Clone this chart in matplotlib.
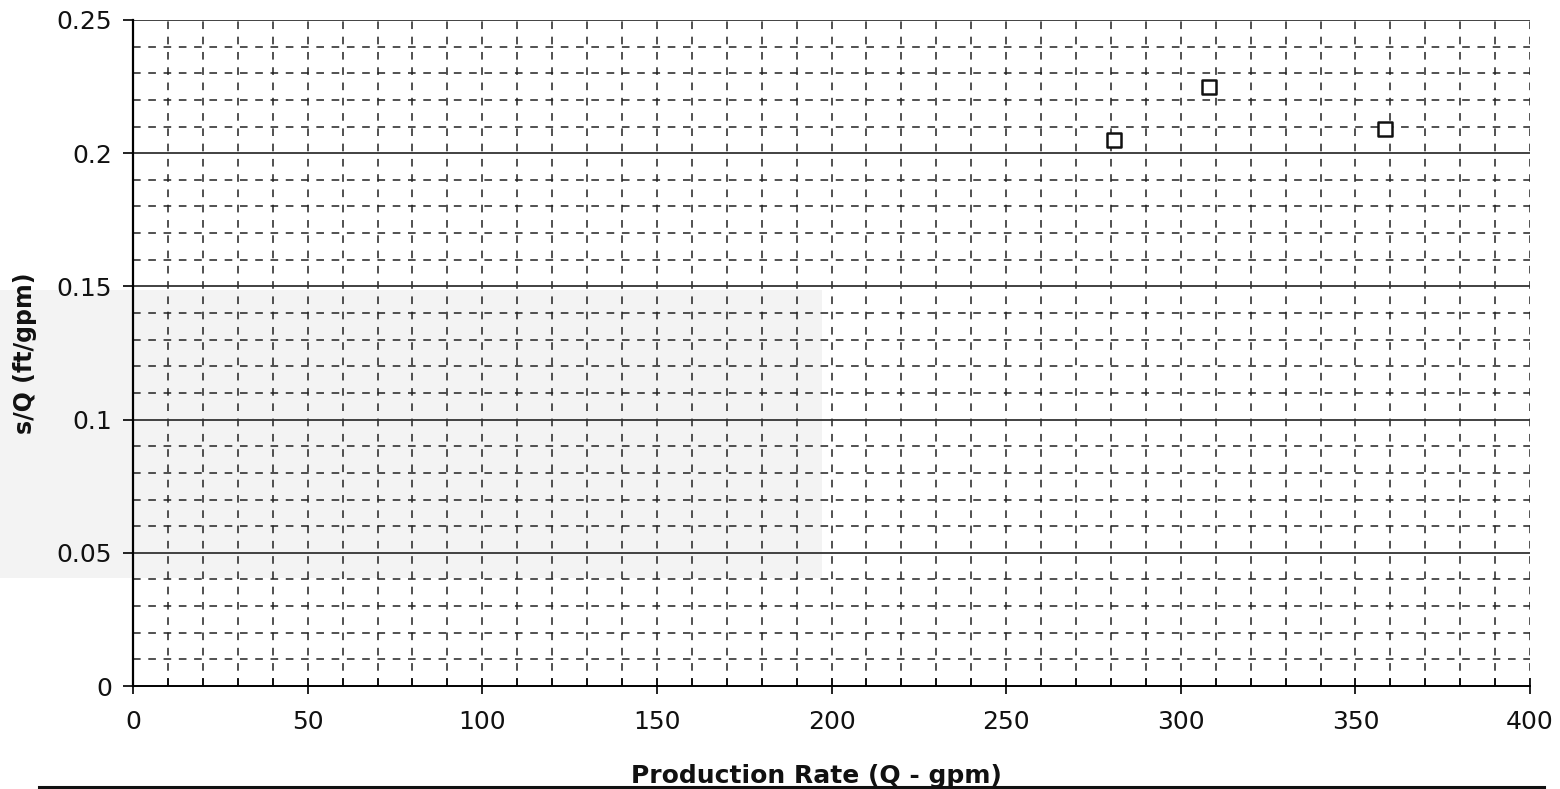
import matplotlib
matplotlib.use("Agg")
import matplotlib.pyplot as plt
from matplotlib.ticker import MultipleLocator
from matplotlib.lines import Line2D
from matplotlib.patches import Rectangle
import numpy as np

# Specific drawdown vs. pumping rate
production_rate = [281, 308, 358.5]          # Q (gpm)
specific_drawdown = [0.205, 0.225, 0.209]    # s/Q (ft/gpm)

x_ticks = [0, 50, 100, 150, 200, 250, 300, 350, 400]
y_ticks = [0, 0.05, 0.1, 0.15, 0.2, 0.25]
y_tick_labels = ["0", "0.05", "0.1", "0.15", "0.2", "0.25"]

plt.rcParams["font.family"] = ["DejaVu Sans"]

fig = plt.figure(figsize=(15.6, 7.89), dpi=100)
ax = fig.add_axes([0.0853, 0.1305, 0.8955, 0.8442])
ax.patch.set_alpha(0)

# faint grey tone on part of the sheet
fig.add_artist(Rectangle((0.0, 0.268), 0.527, 0.364, transform=fig.transFigure,
                         facecolor="#f3f3f3", edgecolor="none", zorder=-1))

ax.set_xlim(0, 400)
ax.set_ylim(0, 0.25)

# minor dashed grid
for xv in np.arange(10, 400.1, 10):
    ax.axvline(xv, color="#222222", lw=1.1, ls=(0, (5, 5)), zorder=1)
for yv in np.arange(0.01, 0.2501, 0.01):
    if abs(yv / 0.05 - round(yv / 0.05)) < 1e-6:
        continue
    ax.axhline(yv, color="#222222", lw=1.1, ls=(0, (5, 5)), zorder=1)
# major solid horizontal grid
for yv in y_ticks[1:]:
    ax.axhline(yv, color="#333333", lw=1.3, zorder=1)

ax.scatter(production_rate, specific_drawdown, marker="s", s=100,
           facecolors="white", edgecolors="#111111", linewidths=1.8, zorder=3)

for side in ["top", "right"]:
    ax.spines[side].set_visible(False)
ax.spines["left"].set_linewidth(1.6)
ax.spines["bottom"].set_linewidth(1.4)

ax.set_xticks(x_ticks)
ax.set_yticks(y_ticks)
ax.set_yticklabels(y_tick_labels)
ax.xaxis.set_minor_locator(MultipleLocator(10))
ax.tick_params(axis="x", which="major", direction="inout", length=12, width=1.3,
               labelsize=18, pad=11, colors="#111111")
ax.tick_params(axis="x", which="minor", direction="in", length=6, width=1.1)
ax.tick_params(axis="y", which="major", direction="out", length=7, width=1.3,
               labelsize=18, pad=8, colors="#111111")

ax.set_xlabel("Production Rate (Q - gpm)", fontsize=18, fontweight="bold",
              labelpad=22, color="#111111")
ax.xaxis.label.set_x(0.489)
ax.set_ylabel("s/Q (ft/gpm)", fontsize=17, fontweight="bold", labelpad=14,
              color="#111111")

# rule along the bottom of the sheet
fig.add_artist(Line2D([0.025, 0.99], [0.003, 0.003], transform=fig.transFigure,
                      color="#111111", lw=2.2))

fig.savefig("out.png", dpi=100, facecolor="white")
